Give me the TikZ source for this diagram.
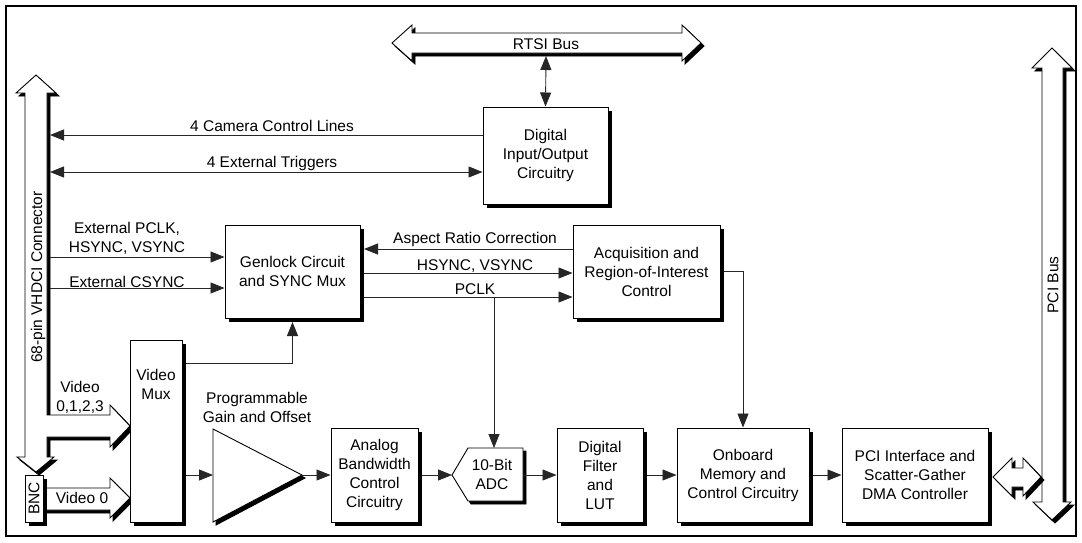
\documentclass[tikz,border=0pt]{standalone}
\usepackage{fontspec}
\setmainfont{Liberation Sans}
\usetikzlibrary{arrows.meta,shadows,calc}
\newcommand\shpath[1]{\foreach \s/\st in {3/shd,0/hol}{\draw[\st, shift={(\s,\s)}] #1;}}
\begin{document}
\begin{tikzpicture}[x=1pt,y=-1pt,
  font=\fontsize{15.5}{19}\selectfont,
  box/.style={draw=black, line width=1pt, fill=white, align=center, inner sep=0pt,
    drop shadow={shadow xshift=3.5pt, shadow yshift=-3.5pt, fill=black, opacity=1}},
  conn/.style={draw=black!85, line width=0.9pt},
  arr/.style={conn, -{Triangle[length=14pt,width=11pt]}},
  darr/.style={conn, {Triangle[length=14pt,width=11pt]}-{Triangle[length=14pt,width=11pt]}},
  hol/.style={draw=black, line width=0.9pt, fill=white, line join=miter},
  shd/.style={draw=black, line width=0.9pt, fill=black, line join=miter},
  lbl/.style={inner sep=0pt, anchor=base},
  mlbl/.style={inner sep=0pt, align=center},
]
\useasboundingbox (0,0) rectangle (1082,542);
\draw[line width=2.5pt] (6,6) rectangle (1076,536);

% ---- buses (hollow arrows) ----
\shpath{(36,75) -- (56,93) -- (47,93) -- (47,415) -- (110,415) -- (110,405) -- (130,426)
  -- (110,447) -- (110,437) -- (47,437) -- (47,457) -- (54,457) -- (36,472) -- (17,457)
  -- (25,457) -- (25,93) -- (16,93) -- cycle}
\shpath{(38,488) -- (110,488) -- (110,478) -- (130,498) -- (110,518) -- (110,510) -- (38,510) -- cycle}
\shpath{(392,43) -- (412,25) -- (412,33) -- (682,33) -- (682,25) -- (701,43) -- (682,61)
  -- (682,53) -- (412,53) -- (412,61) -- cycle}
\shpath{(1052,48) -- (1072,68) -- (1063,68) -- (1063,502) -- (1071,502) -- (1052,520)
  -- (1033,502) -- (1042,502) -- (1042,68) -- (1032,68) -- cycle}
\shpath{(993,477) -- (1012,458) -- (1012,468) -- (1023,468) -- (1023,458) -- (1041,477)
  -- (1023,496) -- (1023,487) -- (1012,487) -- (1012,496) -- cycle}

% ---- boxes ----
\node[box, minimum width=125pt, minimum height=97pt] (dio) at (545.5,155.5) {Digital\\Input/Output\\Circuitry};
\node[box, minimum width=135pt, minimum height=93pt] (gen) at (292.5,271.5) {Genlock Circuit\\and SYNC Mux};
\node[box, minimum width=147pt, minimum height=93pt] (acq) at (646.5,271.5) {Acquisition and\\Region-of-Interest\\Control};
\node[box, minimum width=52pt, minimum height=182pt] (mux) at (156,431) {};
\node[box, minimum width=87pt, minimum height=94pt] (ana) at (374.5,475) {Analog\\Bandwidth\\Control\\Circuitry};
\node[box, minimum width=86pt, minimum height=94pt] (df) at (600,475) {Digital\\Filter\\and\\LUT};
\node[box, minimum width=132pt, minimum height=94pt] (mem) at (743,475) {Onboard\\Memory and\\Control Circuitry};
\node[box, minimum width=146pt, minimum height=94pt] (pci) at (915,475) {PCI Interface and\\Scatter-Gather\\DMA Controller};
\node[box, minimum width=18pt, minimum height=47pt] (bnc) at (34,498.5) {\rotatebox{90}{BNC}};

% ---- amplifier triangle ----
\coordinate (ampT) at (213,429);
\coordinate (ampB) at (213,522);
\coordinate (ampR) at (302,475);
\shpath{(213,429) -- (302,475) -- (213,522) -- cycle}

% ---- ADC ----
\coordinate (adcL) at (452,475);
\coordinate (adcE) at (523,475);
\coordinate (adcN) at (494,448);
\shpath{(452,475) -- (468,448) -- (523,448) -- (523,501) -- (468,501) -- cycle}
\node[mlbl] (ladc) at (492,474) {10-Bit\\ADC};

% ---- connectors ----
\coordinate (busR) at (50,0);
\coordinate (rtsiB) at (546,56);
\coordinate (genE) at ($(gen.east)+(3.5,0)$);
\coordinate (genS) at ($(gen.south)+(0,3.5)$);
\coordinate (muxE) at ($(mux.east)+(3.5,0)$);
\coordinate (acqE) at ($(acq.east)+(3.5,0)$);
\coordinate (anaE) at ($(ana.east)+(3.5,0)$);
\coordinate (dfE) at ($(df.east)+(3.5,0)$);
\coordinate (memE) at ($(mem.east)+(3.5,0)$);

\draw[darr] (rtsiB) -- (dio.north);
\draw[arr] (dio.west |- 0,135) -- (busR |- 0,135);
\draw[darr] (busR |- 0,172) -- (dio.west |- 0,172);
\draw[arr] (busR |- 0,257) -- (gen.west |- 0,257);
\draw[arr] (busR |- 0,288) -- (gen.west |- 0,288);
\draw[arr] (acq.west |- 0,249) -- (genE |- 0,249);
\draw[arr] (genE |- 0,273) -- (acq.west |- 0,273);
\draw[arr] (genE |- 0,297) -- (acq.west |- 0,297);
\draw[arr] (adcN |- 0,297) -- (adcN);
\draw[arr] (muxE |- 0,363) -| (genS);
\draw[arr] (acqE) -| (mem.north);
\draw[arr] (muxE |- 0,475) -- (ampT |- 0,475);
\draw[arr] (ampR) -- (ana.west |- ampR);
\draw[arr] (anaE) -- (adcL);
\draw[arr] (adcE) -- (df.west |- adcE);
\draw[arr] (dfE) -- (mem.west);
\draw[arr] (memE) -- (pci.west);

% ---- labels ----
\node[lbl] (lcam) at (272,131) {4 Camera Control Lines};
\node[lbl] (ltrig) at (272,167) {4 External Triggers};
\node[mlbl] (lext) at (127,238) {External PCLK,\\HSYNC, VSYNC};
\node[lbl] (lcs) at (127,287) {External CSYNC};
\node[lbl] (lasp) at (475,243) {Aspect Ratio Correction};
\node[lbl] (lhv) at (475,270) {HSYNC, VSYNC};
\node[lbl] (lpclk) at (475,294) {PCLK};
\node[lbl] (lrtsi) at (546,49) {RTSI Bus};
\node[mlbl] (lvid) at (80,397) {Video\\0,1,2,3};
\node[lbl] (lv0) at (82,503) {Video 0};
\node[mlbl] (lmux) at (156,384) {Video\\Mux};
\node[mlbl] (lpga) at (257,407.5) {Programmable\\Gain and Offset};
\node[rotate=90] (lconn) at (38,277) {68-pin VHDCI Connector};
\node[rotate=90] (lpci) at (1053,285) {PCI Bus};
\end{tikzpicture}
\end{document}
